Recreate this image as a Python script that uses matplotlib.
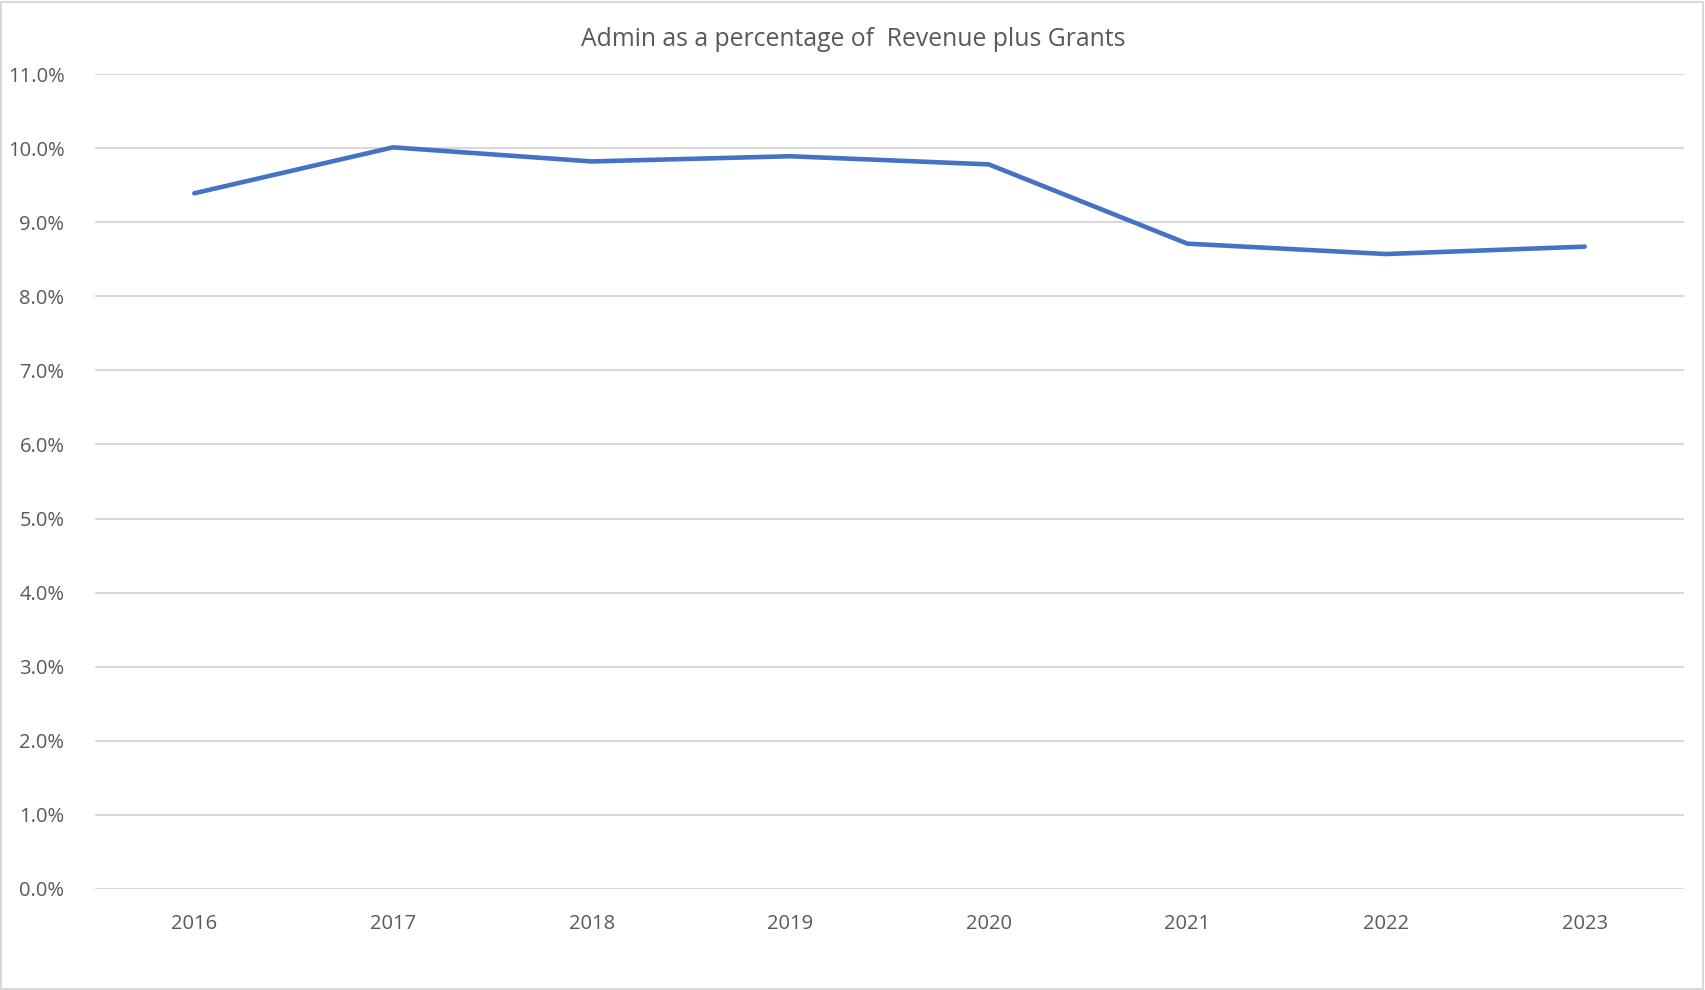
import matplotlib as mpl
mpl.use('Agg')
import matplotlib.pyplot as plt
from matplotlib.ticker import FuncFormatter
from matplotlib.patches import Rectangle

years = ['2016', '2017', '2018', '2019', '2020', '2021', '2022', '2023']
admin_pct = [9.39, 10.01, 9.82, 9.89, 9.78, 8.71, 8.57, 8.67]
y_ticks = [0, 1, 2, 3, 4, 5, 6, 7, 8, 9, 10, 11]

plt.rcParams['font.family'] = ['Open Sans', 'DejaVu Sans']
txt = '#595959'

fig = plt.figure(figsize=(17.06, 9.9), dpi=100)
ax = fig.add_axes([95/1706, 1 - 889/990, (1684-95)/1706, (889-74)/990])

x = list(range(len(years)))
ax.plot(x, admin_pct, color='#4472C4', lw=3.3, solid_capstyle='round', zorder=3)

ax.set_xlim(-0.5, len(years) - 0.5)
ax.set_ylim(0, 11)
ax.set_yticks(y_ticks)
ax.yaxis.set_major_formatter(FuncFormatter(lambda v, p: f'{v:.1f}%'))
ax.set_xticks(x)
ax.set_xticklabels(years)
ax.grid(axis='y', color='#D9D9D9', lw=1.5)
ax.set_axisbelow(True)
for s in ax.spines.values():
    s.set_visible(False)
ax.tick_params(axis='both', length=0, labelsize=14.5, colors=txt)
ax.tick_params(axis='y', pad=22)
ax.tick_params(axis='x', pad=18)

fig.text(0.5, 1 - 39/990, 'Admin as a percentage of  Revenue plus Grants',
         ha='center', va='center', fontsize=17.8, color=txt)

# chart border
fig.patches.append(Rectangle((0.0005, 0.001), 0.998, 0.997, transform=fig.transFigure,
                             fill=False, edgecolor='#D9D9D9', lw=1.5))

fig.savefig('out.png', dpi=100)
